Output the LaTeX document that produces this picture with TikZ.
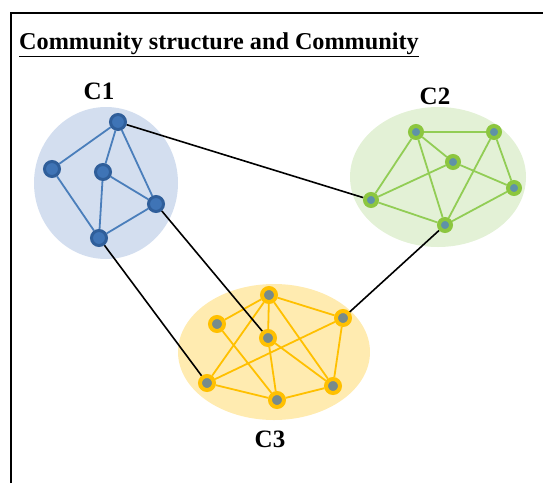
\documentclass[tikz,border=0pt]{standalone}
\usepackage{fontspec}
\setmainfont{Liberation Serif}
\usepackage{xcolor}
\usepackage{tikz}
\usetikzlibrary{backgrounds}
\definecolor{blueback}{HTML}{D3DEEF}
\definecolor{blueedge}{HTML}{4A7EBB}
\definecolor{bluering}{HTML}{2F5E9A}
\definecolor{bluecore}{HTML}{3F74B6}
\definecolor{greenback}{HTML}{E3F1D6}
\definecolor{greenedge}{HTML}{92CD55}
\definecolor{greenring}{HTML}{8CC63F}
\definecolor{greencore}{HTML}{5F92A8}
\definecolor{goldback}{HTML}{FFEBB0}
\definecolor{goldedge}{HTML}{FFC000}
\definecolor{goldring}{HTML}{FFC000}
\definecolor{goldcore}{HTML}{778B8B}

\tikzset{
  bluenode/.style={circle, draw=bluering, fill=bluecore, line width=3pt,
                   minimum size=15pt, inner sep=0pt},
  greennode/.style={circle, draw=greenring, fill=greencore, line width=4pt,
                    minimum size=12pt, inner sep=0pt},
  goldnode/.style={circle, draw=goldring, fill=goldcore, line width=4pt,
                   minimum size=14pt, inner sep=0pt},
  bluelink/.style={draw=blueedge, line width=1.8pt},
  greenlink/.style={draw=greenedge, line width=1.8pt},
  goldlink/.style={draw=goldedge, line width=1.8pt},
  bridge/.style={draw=black, line width=1.6pt},
  clabel/.style={font=\fontsize{25}{28}\selectfont\bfseries}
}

\begin{document}
\begin{tikzpicture}[x=1pt, y=-1pt]
    \useasboundingbox (0,0) rectangle (543,483);
    % frame
    \draw[line width=2pt] (11,483) -- (11,13) -- (543,13);
    \node[anchor=west, inner sep=0pt, font=\fontsize{24.2}{28}\selectfont\bfseries]
        (title) at (19,45) {\underline{Community structure and Community}};

    % community C1
    \node[bluenode] (u1) at (118,122) {};
    \node[bluenode] (u2) at (52,169) {};
    \node[bluenode] (u3) at (103,172) {};
    \node[bluenode] (u4) at (156,204) {};
    \node[bluenode] (u5) at (99,238) {};
    % community C2
    \node[greennode] (v1) at (416,132) {};
    \node[greennode] (v2) at (494,132) {};
    \node[greennode] (v3) at (453,162) {};
    \node[greennode] (v4) at (514,188) {};
    \node[greennode] (v5) at (371,200) {};
    \node[greennode] (v6) at (445,225) {};
    % community C3
    \node[goldnode] (w1) at (269,295) {};
    \node[goldnode] (w2) at (217,324) {};
    \node[goldnode] (w3) at (268,338) {};
    \node[goldnode] (w4) at (343,318) {};
    \node[goldnode] (w5) at (207,383) {};
    \node[goldnode] (w6) at (277,400) {};
    \node[goldnode] (w7) at (333,386) {};

    \node[clabel] (lab1) at (99,91) {C1};
    \node[clabel] (lab2) at (435,96) {C2};
    \node[clabel] (lab3) at (270,439) {C3};

    \begin{scope}[on background layer]
        \fill[blueback] (106,183) ellipse [x radius=72pt, y radius=76pt];
        \fill[greenback] (438,177) ellipse [x radius=88pt, y radius=70pt];
        \fill[goldback] (274,352) ellipse [x radius=96pt, y radius=68pt];

        \foreach \a/\b in {u1/u2, u1/u3, u1/u4, u2/u5, u3/u5, u3/u4, u5/u4}
            \draw[bluelink] (\a) -- (\b);
        \foreach \a/\b in {v1/v2, v1/v3, v1/v5, v1/v6, v3/v5, v3/v4,
                           v2/v4, v2/v6, v5/v6, v6/v4}
            \draw[greenlink] (\a) -- (\b);
        \foreach \a/\b in {w1/w2, w1/w4, w1/w5, w1/w3, w1/w7, w2/w6,
                           w3/w6, w3/w7, w4/w5, w4/w7, w5/w6, w6/w7}
            \draw[goldlink] (\a) -- (\b);

        % links between communities
        \draw[bridge] (u1) -- (v5);
        \draw[bridge] (u4) -- (w3);
        \draw[bridge] (u5) -- (w5);
        \draw[bridge] (v6) -- (w4);
    \end{scope}
\end{tikzpicture}
\end{document}
